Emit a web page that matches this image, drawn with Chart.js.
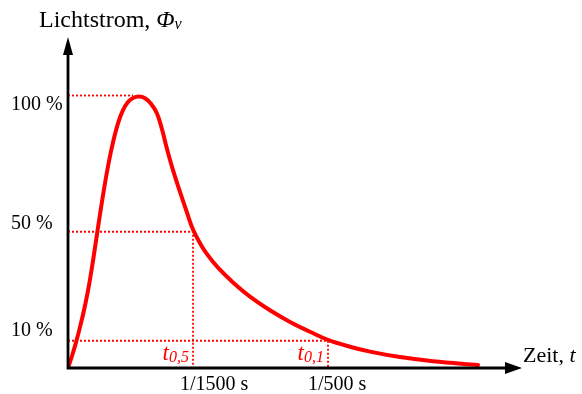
<!DOCTYPE html>
<html><head><meta charset="utf-8">
<script src="https://cdn.jsdelivr.net/npm/chart.js@4/dist/chart.umd.min.js"></script>
<style>html,body{margin:0;padding:0;background:#fff}canvas{display:block}</style>
</head><body>
<canvas id="c" width="582" height="394"></canvas>
<script>
// Schematic time axis (arbitrary units), luminous flux in %
const curveTime = [0,4,8,12,16,20,24,28,32,36,40,45,50,55,60,65,71,77,83,89,94,99,105,112,119,125,132,139,150,165,182,202,222,242,260,282,302,332,365,410];
const curveFlux = [0,4.4,9.4,15.0,21.2,28.4,37.0,46.6,56.4,65.6,74.0,82.8,89.8,94.6,97.6,99.1,99.6,99.0,97.0,93.4,87.6,80.4,72.6,64.6,57.0,50.8,45.8,41.8,36.8,31.4,26.2,21.2,16.9,13.3,10.3,7.8,6.0,4.0,2.5,1.1];
const levelValues = [100, 50, 10];
const levelLabels = ['100 %', '50 %', '10 %'];
const levelTimes = [65, 125, 260];
const timeTickLabels = ['', '1/1500 s', '1/500 s'];
const markerSubscripts = ['', '0,5', '0,1'];
const yTitle = 'Lichtstrom, ';
const yTitleSymbol = 'Φ';
const yTitleSub = 'v';
const xTitle = 'Zeit, ';
const xTitleSymbol = 't';

const RED = '#ff0000';
const SERIF = '"Liberation Serif", "Times New Roman", serif';

const datasets = [];
levelValues.forEach((v, i) => {
  const pts = [{x: 0, y: v}, {x: levelTimes[i], y: v}];
  if (markerSubscripts[i]) pts.push({x: levelTimes[i], y: 0});
  datasets.push({
    data: pts, borderColor: RED, borderWidth: 1.8, borderDash: [2, 2],
    pointRadius: 0, tension: 0, fill: false
  });
});
datasets.push({
  data: curveTime.map((t, i) => ({x: t, y: curveFlux[i]})),
  borderColor: RED, borderWidth: 4, pointRadius: 0,
  tension: 0.4, fill: false,
  borderCapStyle: 'round', borderJoinStyle: 'round'
});

const decor = {
  id: 'decor',
  afterDatasetsDraw(chart) {
    const ctx = chart.ctx, xs = chart.scales.x, ys = chart.scales.y, a = chart.chartArea;
    const x0 = xs.getPixelForValue(0), y0 = ys.getPixelForValue(0);
    ctx.save();
    // axes
    ctx.strokeStyle = '#000'; ctx.fillStyle = '#000'; ctx.lineWidth = 2.8; ctx.lineCap = 'butt';
    ctx.beginPath();
    ctx.moveTo(x0, y0 + 1.4); ctx.lineTo(x0, a.top + 12);
    ctx.moveTo(x0 - 1.4, y0); ctx.lineTo(a.right - 12, y0);
    ctx.stroke();
    ctx.beginPath();
    ctx.moveTo(x0, a.top); ctx.lineTo(x0 - 5, a.top + 18); ctx.lineTo(x0 + 5, a.top + 18); ctx.closePath(); ctx.fill();
    ctx.beginPath();
    ctx.moveTo(a.right, y0); ctx.lineTo(a.right - 17, y0 - 6); ctx.lineTo(a.right - 17, y0 + 6); ctx.closePath(); ctx.fill();

    // y level labels
    const yOff = [14, -3, -5];
    ctx.font = '20px ' + SERIF; ctx.textAlign = 'left'; ctx.textBaseline = 'alphabetic';
    levelValues.forEach((v, i) => {
      ctx.fillText(levelLabels[i], 11, ys.getPixelForValue(v) + yOff[i]);
    });
    // x tick labels
    const xOff = [0, -13, -20];
    levelTimes.forEach((t, i) => {
      if (!timeTickLabels[i]) return;
      ctx.fillText(timeTickLabels[i], xs.getPixelForValue(t) + xOff[i], y0 + 22);
    });
    // t markers (red italic)
    ctx.fillStyle = RED;
    levelTimes.forEach((t, i) => {
      if (!markerSubscripts[i]) return;
      ctx.font = 'italic 16px ' + SERIF;
      const sw = ctx.measureText(markerSubscripts[i]).width;
      const right = xs.getPixelForValue(t) - 4;
      ctx.fillText(markerSubscripts[i], right - sw, y0 - 6);
      ctx.font = 'italic 23px ' + SERIF;
      const tw = ctx.measureText('t').width;
      ctx.fillText('t', right - sw - tw, y0 - 8);
    });
    // titles
    ctx.fillStyle = '#000';
    ctx.font = '24px ' + SERIF;
    let x = 39;
    ctx.fillText(yTitle, x, 27); x += ctx.measureText(yTitle).width;
    ctx.font = 'italic 24px ' + SERIF;
    ctx.fillText(yTitleSymbol, x, 27); x += ctx.measureText(yTitleSymbol).width;
    ctx.font = 'italic 16px ' + SERIF;
    ctx.fillText(yTitleSub, x, 29);
    ctx.font = '22px ' + SERIF;
    x = a.right + 1;
    ctx.fillText(xTitle, x, y0 - 6); x += ctx.measureText(xTitle).width;
    ctx.font = 'italic 22px ' + SERIF;
    ctx.fillText(xTitleSymbol, x, y0 - 6);
    ctx.restore();
  }
};

new Chart(document.getElementById('c'), {
  type: 'line',
  data: {datasets},
  options: {
    responsive: false, animation: false, devicePixelRatio: 1,
    layout: {padding: {left: 68, right: 60, top: 37, bottom: 26}},
    plugins: {legend: {display: false}, tooltip: {enabled: false}},
    scales: {
      x: {type: 'linear', min: 0, max: 454, display: false},
      y: {type: 'linear', min: 0, max: 121.47, display: false}
    }
  },
  plugins: [decor]
});
</script>
</body></html>
